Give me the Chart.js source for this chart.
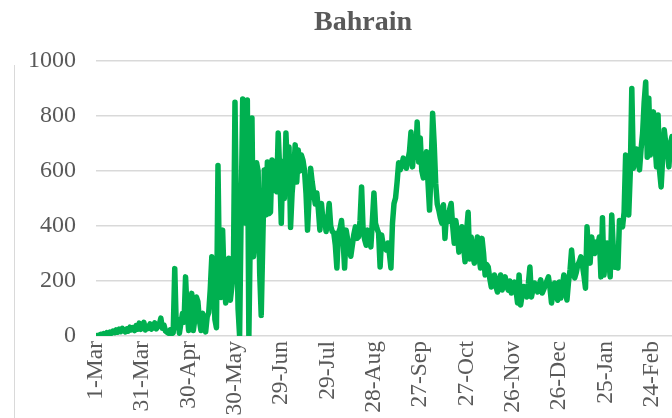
<!DOCTYPE html>
<html>
<head>
<meta charset="utf-8">
<script src="https://cdn.jsdelivr.net/npm/chart.js@4.4.1/dist/chart.umd.min.js"></script>
<style>
  html, body { margin: 0; padding: 0; background: #fff; overflow: hidden; }
  #wrap { position: relative; width: 726px; height: 440px; }
  #edge { position: absolute; left: 14px; top: 65px; height: 400px; border-left: 1.5px solid #d9d9d9; }
</style>
</head>
<body>
<div id="wrap">
  <div id="edge"></div>
  <canvas id="c" width="726" height="440"></canvas>
</div>
<script>
// daily new cases, starting 1-Mar (one value per day)
const cases = [
  0, 2, 3, 6, 4, 9, 5, 12, 8, 14,
  10, 18, 12, 22, 14, 25, 16, 28, 20, 15,
  26, 18, 32, 22, 30, 20, 38, 25, 47, 24,
  33, 50, 22, 36, 28, 44, 25, 32, 48, 26,
  34, 42, 65, 28, 40, 18, 14, 10, 22, 8,
  12, 245, 30, 60, 10, 47, 82, 50, 215, 90,
  20, 100, 155, 20, 60, 142, 125, 55, 20, 83,
  40, 15, 70, 85, 170, 288, 200, 60, 30, 620,
  200, 140, 385, 200, 120, 180, 283, 130, 180, 250,
  850, 420, 100, 0, 450, 862, 600, 410, 858, 0,
  400, 793, 288, 350, 630, 600, 230, 75, 338, 604,
  440, 633, 445, 450, 640, 633, 530, 525, 738, 600,
  410, 635, 500, 738, 600, 687, 395, 520, 590, 695,
  560, 676, 600, 658, 640, 604, 520, 385, 500, 610,
  560, 520, 480, 520, 460, 385, 482, 420, 433, 380,
  420, 482, 400, 380, 375, 330, 247, 375, 390, 420,
  350, 247, 385, 350, 320, 290, 330, 370, 397, 355,
  360, 420, 542, 385, 350, 330, 385, 350, 324, 420,
  520, 410, 390, 375, 251, 367, 330, 320, 313, 338,
  300, 247, 410, 482, 502, 560, 630, 604, 620, 647,
  630, 610, 640, 670, 742, 615, 700, 650, 778, 633,
  720, 600, 575, 620, 670, 560, 458, 600, 810, 700,
  555, 480, 458, 430, 410, 477, 355, 447, 415, 460,
  482, 400, 337, 420, 380, 305, 350, 397, 330, 270,
  380, 450, 280, 360, 300, 265, 320, 360, 290, 247,
  355, 300, 222, 260, 251, 210, 178, 200, 222, 180,
  160, 200, 222, 167, 190, 215, 180, 167, 200, 156,
  180, 196, 167, 120, 222, 113, 150, 180, 167, 142,
  190, 251, 142, 170, 193, 175, 160, 185, 204, 156,
  170, 185, 200, 215, 175, 120, 160, 193, 150, 130,
  196, 138, 180, 222, 160, 131, 196, 240, 313, 250,
  211, 230, 258, 270, 288, 258, 220, 174, 397, 300,
  265, 360, 320, 300, 342, 330, 360, 215, 430, 222,
  300, 338, 280, 215, 440, 320, 250, 270, 247, 420,
  400, 397, 450, 658, 600, 440, 593, 900, 610, 650,
  680, 640, 604, 680, 738, 850, 924, 650, 865, 658,
  740, 815, 700, 615, 804, 600, 542, 650, 750, 700,
  680, 615, 700, 725
];

// day offsets (from 1-Mar) where the axis shows a date, and their text
const tickDays = [0, 30, 60, 90, 120, 150, 180, 210, 240, 270, 300, 330, 360];
const tickLabels = ["1-Mar", "31-Mar", "30-Apr", "30-May", "29-Jun", "29-Jul", "28-Aug",
  "27-Sep", "27-Oct", "26-Nov", "26-Dec", "25-Jan", "24-Feb"];
const yTicks = [0, 200, 400, 600, 800, 1000];
const lastAxisDay = 408; // axis runs on past the right edge of the picture

const grey = "#595959";
const serif = "'Liberation Serif', 'Times New Roman', serif";

new Chart(document.getElementById("c"), {
  type: "line",
  data: {
    datasets: [{
      label: "Bahrain",
      data: cases.map((v, i) => ({ x: i, y: v })),
      borderColor: "#00b050",
      borderWidth: 5.5,
      borderJoinStyle: "round",
      borderCapStyle: "round",
      pointRadius: 0,
      tension: 0,
    }],
  },
  options: {
    responsive: false,
    animation: false,
    layout: { padding: 0 },
    plugins: {
      legend: { display: false },
      tooltip: { enabled: false },
      title: {
        display: true,
        text: "Bahrain",
        color: grey,
        font: { family: serif, size: 28, weight: "bold" },
        padding: { top: 6, bottom: 21.4 },
      },
    },
    scales: {
      x: {
        type: "linear",
        min: 0,
        max: lastAxisDay,
        afterBuildTicks: (s) => { s.ticks = tickDays.map((v) => ({ value: v })); },
        afterFit: (s) => { s.height = 104; },
        grid: { display: false },
        border: { display: false },
        ticks: {
          autoSkip: false,
          maxRotation: 90,
          minRotation: 90,
          padding: -3,
          color: grey,
          font: { family: serif, size: 23.5 },
          callback: (v) => tickLabels[tickDays.indexOf(v)] ?? "",
        },
      },
      y: {
        min: 0,
        max: 1000,
        afterBuildTicks: (s) => { s.ticks = yTicks.map((v) => ({ value: v })); },
        afterFit: (s) => { s.width = 96; },
        grid: { color: "#d9d9d9", lineWidth: 1.5, drawTicks: false },
        border: { display: false },
        ticks: {
          padding: 20,
          color: grey,
          font: { family: serif, size: 24 },
          callback: (v) => String(v),
        },
      },
    },
  },
});
</script>
</body>
</html>
